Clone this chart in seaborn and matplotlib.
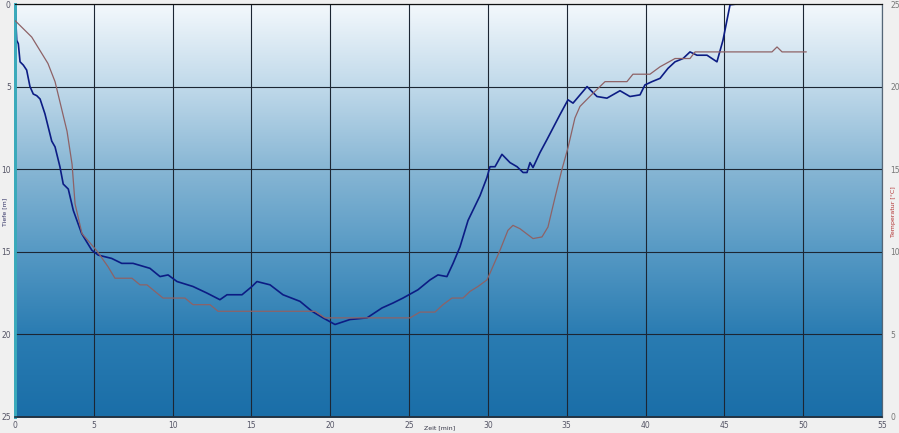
import numpy as np
import pandas as pd
import seaborn as sns
import matplotlib.pyplot as plt
from matplotlib.colors import LinearSegmentedColormap

# depth profile (Tiefe [m]) over time (Zeit [min])
zeit_tiefe = [0.0, 0.11, 0.21, 0.32, 0.53, 0.74, 0.95, 1.16, 1.38, 1.59, 1.90, 2.33, 2.54,
              2.85, 3.06, 3.38, 3.70, 4.23, 4.87, 5.28, 6.13, 6.77, 7.49, 8.56, 9.20, 9.71,
              10.28, 11.29, 12.18, 13.00, 13.45, 14.40, 15.03, 15.35, 16.18, 17.00, 18.08,
              18.84, 19.54, 20.30, 21.25, 22.33, 23.28, 23.98, 24.61, 25.56, 26.33, 26.83,
              27.40, 27.79, 28.23, 28.74, 29.50, 29.94, 30.13, 30.45, 30.89, 31.40, 31.85,
              32.23, 32.48, 32.67, 32.86, 33.30, 33.75, 34.57, 35.08, 35.40, 36.29, 36.92,
              37.55, 38.38, 39.01, 39.65, 39.96, 40.41, 40.92, 41.42, 41.87, 42.38, 42.82,
              43.26, 43.90, 44.53, 44.91, 45.36, 45.80, 50.2]
tiefe = [0.0, 2.2, 2.4, 3.5, 3.7, 4.0, 5.0, 5.45, 5.55, 5.75, 6.65, 8.3, 8.65,
         9.85, 10.9, 11.2, 12.5, 13.9, 14.9, 15.2, 15.4, 15.7, 15.7, 16.0, 16.5, 16.4,
         16.8, 17.1, 17.5, 17.9, 17.6, 17.6, 17.1, 16.8, 17.0, 17.6, 18.0,
         18.6, 19.0, 19.4, 19.1, 19.0, 18.4, 18.1, 17.8, 17.3, 16.7, 16.4,
         16.5, 15.7, 14.7, 13.1, 11.6, 10.5, 9.85, 9.85, 9.1, 9.6, 9.85,
         10.2, 10.2, 9.6, 9.9, 9.0, 8.2, 6.7, 5.8, 6.0, 5.0, 5.6,
         5.7, 5.25, 5.6, 5.5, 4.9, 4.7, 4.5, 3.9, 3.5, 3.3, 2.9,
         3.1, 3.1, 3.5, 2.2, 0.05, 0.0, 0.0]

# water temperature (right axis)
zeit_temp = [0.0, 1.06, 2.09, 2.54, 3.30, 3.62, 3.81, 4.25, 5.20, 5.90, 6.34, 7.42, 7.93,
             8.37, 9.39, 10.78, 11.29, 12.37, 12.88, 19.03, 19.67, 25.06, 25.69, 26.64,
             27.15, 27.72, 28.42, 28.86, 29.37, 29.94, 30.13, 30.77, 31.27, 31.59, 32.03,
             32.86, 33.43, 33.81, 34.26, 34.70, 35.08, 35.52, 35.84, 36.67, 37.43, 38.82,
             39.20, 40.28, 40.92, 41.87, 42.82, 43.14, 48.02, 48.34, 48.66, 50.2]
temperatur = [24.0, 23.0, 21.4, 20.3, 17.3, 15.3, 12.9, 11.1, 10.05, 9.1, 8.4, 8.4, 8.0,
              8.0, 7.2, 7.2, 6.8, 6.8, 6.4, 6.4, 6.0, 6.0, 6.35, 6.35,
              6.8, 7.2, 7.2, 7.6, 7.9, 8.3, 8.7, 10.1, 11.3, 11.6, 11.4,
              10.8, 10.9, 11.5, 13.3, 15.0, 16.3, 18.1, 18.8, 19.6, 20.3, 20.3,
              20.75, 20.75, 21.2, 21.7, 21.7, 22.1, 22.1, 22.4, 22.1, 22.1]

x_ticks = list(range(0, 56, 5))
y_ticks = list(range(0, 26, 5))

df_tiefe = pd.DataFrame({"Zeit": zeit_tiefe, "Tiefe": tiefe})
df_temp = pd.DataFrame({"Zeit": zeit_temp, "Temperatur": temperatur})

sns.set_style("white")
plt.rcParams["font.family"] = ["DejaVu Sans"]

fig = plt.figure(figsize=(8.99, 4.33), dpi=100, facecolor="#f0f0f0")
ax = fig.add_axes([15 / 899, 1 - 417 / 433, 867 / 899, 413 / 433])

# background gradient
cmap = LinearSegmentedColormap.from_list(
    "bg", ["#f3f8fc", "#c0d9ea", "#87b6d4", "#5699c4", "#2a7cb2", "#1a6ea8"])
grad = np.linspace(0, 1, 256).reshape(-1, 1)
ax.imshow(grad, extent=[0, 55, 25, 0], aspect="auto", cmap=cmap, zorder=0)

sns.lineplot(data=df_tiefe, x="Zeit", y="Tiefe", ax=ax, color="#0c1c84",
             linewidth=1.2, zorder=4, sort=False)

ax.set_xlim(0, 55)
ax.set_ylim(25, 0)
ax.set_xticks(x_ticks)
ax.set_yticks(y_ticks)
ax.grid(True, color="#1c2633", linewidth=0.8, zorder=1)
ax.set_axisbelow(False)
ax.tick_params(axis="both", length=0, labelsize=5.5, labelcolor="#555566", pad=3)
ax.set_xlabel("")
ax.set_ylabel("")

ax2 = ax.twinx()
sns.lineplot(data=df_temp, x="Zeit", y="Temperatur", ax=ax2, color="#8e6266",
             linewidth=0.9, zorder=3, sort=False)
ax2.set_ylim(0, 25)
ax2.set_yticks(y_ticks)
ax2.set_ylabel("")
ax2.tick_params(axis="y", length=0, labelsize=5.5, labelcolor="#777777", pad=6)
ax2.grid(False)

for a in (ax, ax2):
    a.spines["top"].set_color("#111111")
    a.spines["bottom"].set_color("#223344")
    a.spines["right"].set_color("#556677")
    a.spines["left"].set_color("#3aaabb")
    a.spines["left"].set_linewidth(2)
    a.spines["bottom"].set_linewidth(1.2)

# axis titles placed like the original export
fig.text(440 / 899, 1 - 428 / 433, "Zeit [min]", fontsize=4.5, color="#333344",
         ha="center", va="center")
fig.text(5 / 899, 1 - 212 / 433, "Tiefe [m]", rotation=90, fontsize=4.5,
         color="#333366", ha="center", va="center")
fig.text(894 / 899, 1 - 212 / 433, "Temperatur [°C]", rotation=90, fontsize=4.5,
         color="#b03030", ha="center", va="center")

fig.savefig("out.png", dpi=100, facecolor=fig.get_facecolor())
